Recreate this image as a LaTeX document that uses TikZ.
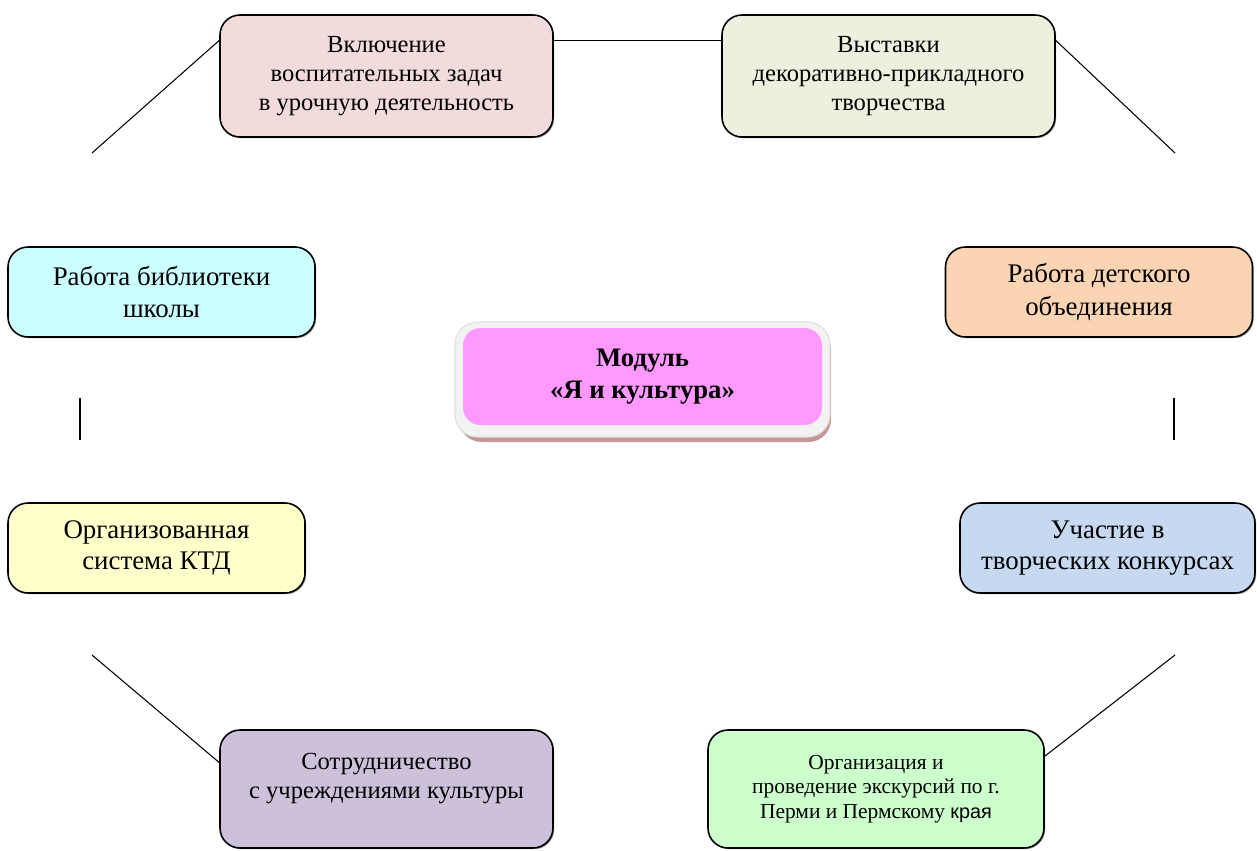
\documentclass[tikz,border=0pt]{standalone}
\usepackage{fontspec}
\setmainfont{Liberation Serif}
\newfontfamily\arialfont{Liberation Sans}
\usepackage{tikz}
\usetikzlibrary{positioning}
\usetikzlibrary{shadows}
\definecolor{pinkfill}{HTML}{F2DCDB}
\definecolor{olivefill}{HTML}{EBF1DE}
\definecolor{cyanfill}{HTML}{CCFFFF}
\definecolor{peachfill}{HTML}{FBD4B4}
\definecolor{modfill}{HTML}{FF99FF}
\definecolor{yellowfill}{HTML}{FFFFCC}
\definecolor{bluefill}{HTML}{C6D9F1}
\definecolor{lilacfill}{HTML}{CCC0DA}
\definecolor{greenfill}{HTML}{CCFFCC}
\definecolor{modshadow}{RGB}{196,152,152}
\tikzstyle{block} = [rectangle, rounded corners=0.4cm, text centered, align=center, draw=black,
line width=0.9pt, drop shadow={shadow xshift=0.7pt, shadow yshift=-0.7pt, fill=black!70, opacity=0.6},
font=\fontsize{14}{16.5}\selectfont]
\tikzstyle{bigblock} = [block, minimum width=6.66cm, minimum height=2.44cm]
\tikzstyle{midblock} = [block, minimum width=6.14cm, minimum height=1.8cm, font=\fontsize{15.3}{18.5}\selectfont]
\tikzstyle{smallblock} = [block, minimum width=5.94cm, minimum height=1.8cm, font=\fontsize{15.3}{17.5}\selectfont]
\tikzstyle{lowblock} = [block, minimum width=6.66cm, minimum height=2.36cm]
\tikzstyle{modframe} = [rectangle, rounded corners=0.45cm, minimum width=7.5cm, minimum height=2.3cm,
fill=gray!10, draw=gray!25, line width=0.6pt]
\tikzstyle{modblock} = [rectangle, rounded corners=0.35cm, minimum width=7.18cm, minimum height=1.94cm,
text centered, align=center, fill=modfill, font=\fontsize{15.2}{18.5}\selectfont\bfseries]
\tikzstyle{line} = [line width=0.6pt]

\begin{document}
\begin{tikzpicture}[node distance=2cm]
  \useasboundingbox (0,0) rectangle (25.14,-17);
  % centre of the scheme
  \fill [modshadow, rounded corners=0.45cm] (9.18,-6.52) rectangle (16.62,-8.84);
  \node (modframe) [modframe] at (12.85,-7.59) {};
  \node (modul) [modblock] at (12.85,-7.53) {Модуль\\«Я и культура»};
  % blocks round it
  \node (vkl) [bigblock, fill=pinkfill] at (7.73,-1.52) {Включение\\воспитательных задач\\в урочную деятельность};
  \node (vyst) [bigblock, fill=olivefill, right of=vkl, xshift=8.04cm] {Выставки\\декоративно-прикладного\\творчества};
  \node (bibl) [midblock, fill=cyanfill] at (3.23,-5.84) {Работа библиотеки\\школы};
  \node (det) [midblock, fill=peachfill, right of=bibl, xshift=16.75cm] {Работа детского\\объединения};
  \node (ktd) [smallblock, fill=yellowfill, below of=bibl, yshift=-3.12cm, xshift=-0.1cm] {Организованная\\система КТД};
  \node (konk) [smallblock, fill=bluefill, below of=det, yshift=-3.12cm, xshift=0.17cm, minimum width=5.9cm] {Участие в\\творческих конкурсах};
  \node (sotr) [lowblock, fill=lilacfill, below of=vkl, yshift=-12.26cm] {Сотрудничество\\с учреждениями культуры\\[-2pt]\mbox{}};
  \node (ekskurs) [lowblock, fill=greenfill, below of=vyst, yshift=-12.26cm, xshift=-0.25cm, minimum width=6.72cm,
  font=\fontsize{12.2}{13.8}\selectfont] {Организация и\\проведение экскурсий по г.\\Перми и Пермскому {\arialfont\fontsize{11.3}{13.8}\selectfont края}};
  % free ends of the lines
  \coordinate (tl) at (1.84,-3.06);
  \coordinate (tr) at (23.5,-3.06);
  \coordinate (ml1) at (1.6,-7.96);
  \coordinate (ml2) at (1.6,-8.8);
  \coordinate (mr1) at (23.48,-7.96);
  \coordinate (mr2) at (23.48,-8.8);
  \coordinate (bl) at (1.84,-13.1);
  \coordinate (br) at (23.5,-13.1);
  \draw [line] (tl) -- (vkl.168);
  \draw [line] (vkl.12) -- (vyst.168);
  \draw [line] (vyst.12) -- (tr);
  \draw [line] (ml1) -- (ml2);
  \draw [line] (mr1) -- (mr2);
  \draw [line] (bl) -- (sotr.171);
  \draw [line] (br) -- (ekskurs.11);
\end{tikzpicture}
\end{document}
